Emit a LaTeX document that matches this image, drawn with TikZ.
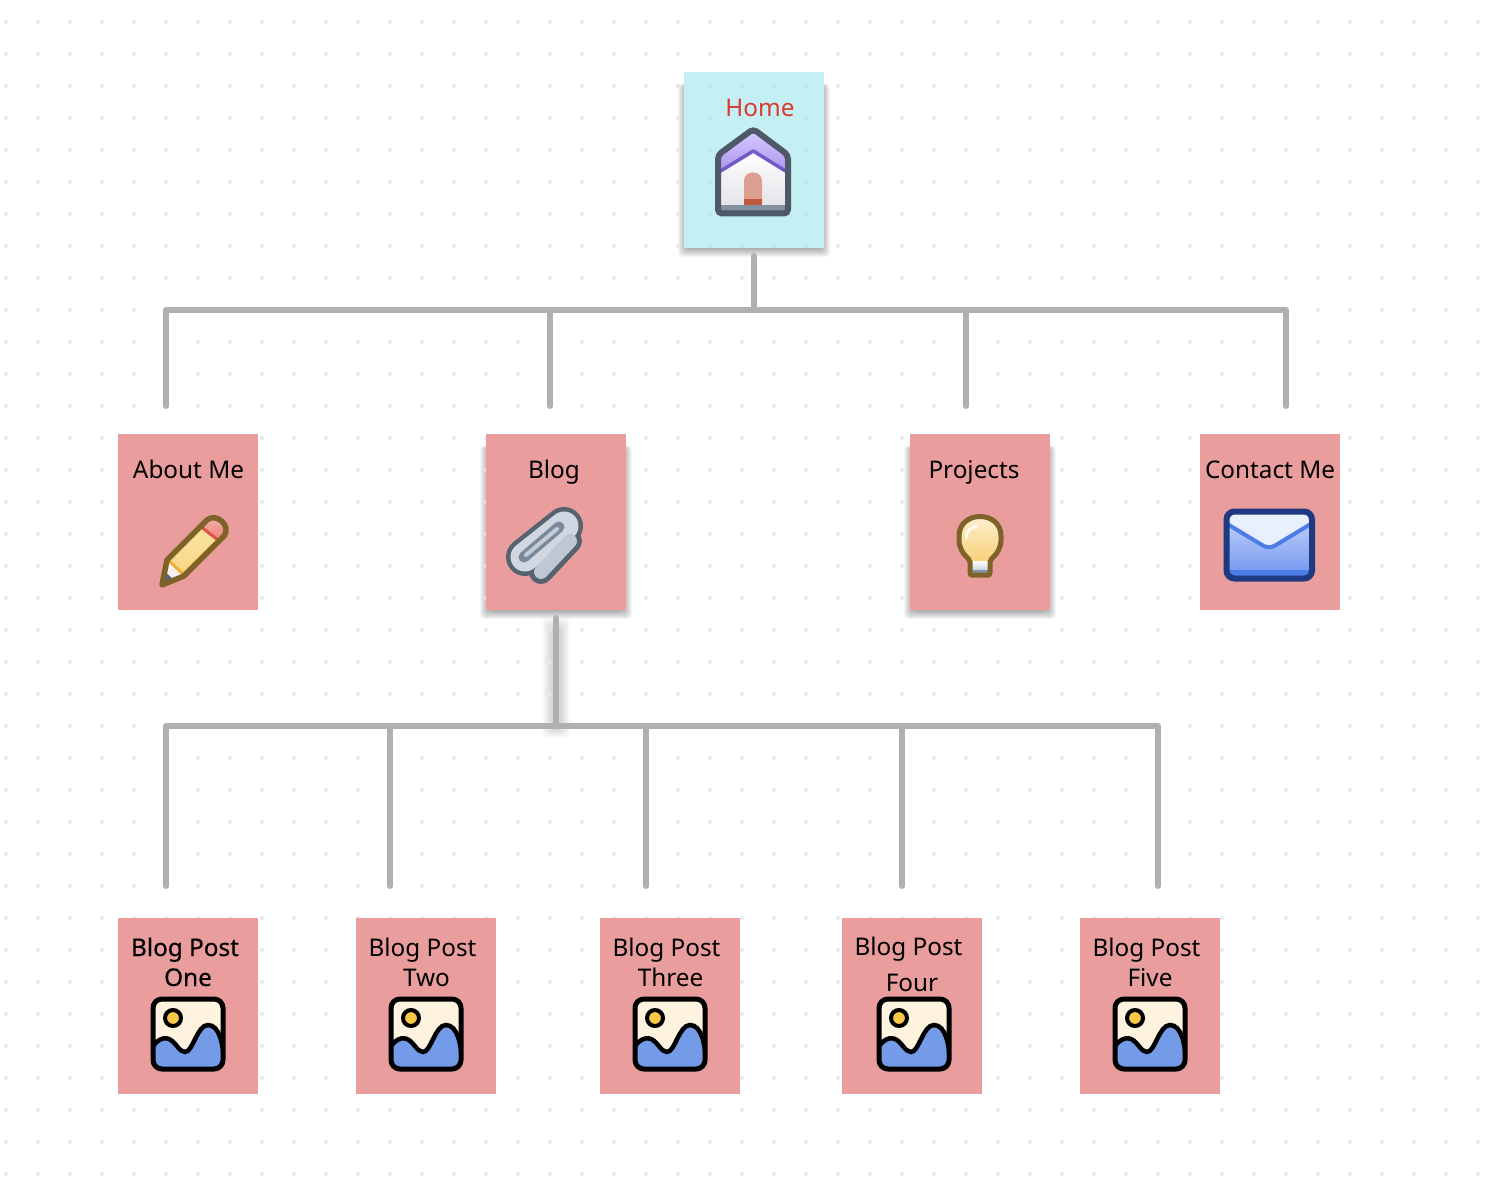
\documentclass[tikz,border=0pt]{standalone}
\usepackage{fontspec}
\setmainfont{Noto Sans}
\newfontfamily\fakebold[FakeBold=0.25]{Noto Sans}
\usetikzlibrary{calc}
\definecolor{pinkbox}{HTML}{E99D9D}
\definecolor{aquabox}{HTML}{B2EBF0}
\definecolor{griddot}{HTML}{E7E7E7}
\definecolor{wire}{HTML}{B0B0B0}
\definecolor{homered}{HTML}{D93A32}
\definecolor{skyblue}{HTML}{739BE8}
\tikzset{
  x=1pt,y=-1pt,
  pagebox/.style={minimum width=140pt,minimum height=176pt,inner sep=0pt,outer sep=0pt,fill=pinkbox},
  homebox/.style={pagebox,fill=aquabox,fill opacity=.75},
  lbl/.style={anchor=base,inner sep=0pt,outer sep=0pt,font=\fontsize{24.3}{28}\selectfont,text=black},
  boldlbl/.style={lbl,font=\fontsize{24.3}{28}\fakebold},
  wireline/.style={draw=wire,line width=6pt,line cap=round,line join=round},
  imgicon/.pic={
    \begin{scope}
      \clip[rounded corners=9pt] (-35,-35) rectangle (35,35);
      \fill[fill={rgb,255:red,253;green,243;blue,222}] (-35,-35) rectangle (35,35);
      \filldraw[fill=skyblue,draw=black,line width=4.5pt]
        (-40,24) .. controls (-36,8) and (-26,2) .. (-19,5)
        .. controls (-12,8) and (-9,18) .. (-3,18)
        .. controls (5,18) and (9,-9) .. (20,-9)
        .. controls (32,-9) and (35,12) .. (36,26) -- (36,40) -- (-40,40) -- cycle;
    \end{scope}
    \draw[black,line width=5pt,rounded corners=9pt] (-35,-35) rectangle (35,35);
    \filldraw[fill={rgb,255:red,249;green,200;blue,70},draw=black,line width=4pt] (-15,-16) circle (8);
  }
}
\newcommand{\softshadow}[4]{%
  \foreach \gr in {-3,-2,...,6}{%
    \fill[black,fill opacity=.04,rounded corners=4pt]
      ({#1-\gr},{#2+12}) rectangle ({#3+\gr},{#4+3+\gr});
  }%
}
\begin{document}
\begin{tikzpicture}
\useasboundingbox (0,0) rectangle (1494,1182);
\fill[white] (0,0) rectangle (1494,1182);
% shadows
\softshadow{684}{72}{824}{248}
\softshadow{486}{434}{626}{610}
\softshadow{910}{434}{1050}{610}
\foreach \gr in {1,2,...,10}{
  \fill[black,fill opacity=.014,rounded corners=4pt] ({552-\gr},{628-\gr}) rectangle ({560+\gr},{728+\gr});
}
\fill[white] (684,72) rectangle (824,248);
% dot grid
\foreach \ix in {0,...,46}{
  \foreach \iy in {0,...,36}{
    \fill[griddot] ({6+32*\ix},{22+32*\iy}) circle (2);
  }
}
% boxes
\node[homebox] (home) at (754,160) {};
\node[pagebox] (about) at (188,522) {};
\node[pagebox] (blog) at (556,522) {};
\node[pagebox] (projects) at (980,522) {};
\node[pagebox] (contact) at (1270,522) {};
\node[pagebox] (post1) at (188,1006) {};
\node[pagebox] (post2) at (426,1006) {};
\node[pagebox] (post3) at (670,1006) {};
\node[pagebox] (post4) at (912,1006) {};
\node[pagebox] (post5) at (1150,1006) {};
% labels
\node[lbl,text=homered] (thome) at (760,117) {Home};
\node[lbl] (tabout) at (188.5,478) {About Me};
\node[lbl] (tblog) at (554,478) {Blog};
\node[lbl] (tproj) at (974,478) {Projects};
\node[lbl] (tcont) at (1270,478) {Contact Me};
\node[boldlbl] (ta1) at (185,956) {Blog Post};
\node[boldlbl] (tb1) at (188,986) {One};
\node[lbl] (ta2) at (422.5,956) {Blog Post};
\node[lbl] (tb2) at (426.5,986) {Two};
\node[lbl] (ta3) at (666.5,956) {Blog Post};
\node[lbl] (tb3) at (670.5,986) {Three};
\node[lbl] (ta4) at (908.5,955) {Blog Post};
\node[lbl] (tb4) at (912,991) {Four};
\node[lbl] (ta5) at (1146.5,956) {Blog Post};
\node[lbl] (tb5) at (1150,986) {Five};
% connectors, first tier
\coordinate (bl) at (166,310);
\coordinate (br) at (1286,310);
\coordinate (dl) at (166,406);
\coordinate (dr) at (1286,406);
\coordinate (s1) at (550,310);
\coordinate (e1) at (550,406);
\coordinate (s2) at (966,310);
\coordinate (e2) at (966,406);
\coordinate (hs) at ($(home.south)+(0,8)$);
\coordinate (hb) at (754,310);
\draw[wireline] (dl) -- (bl) -- (br) -- (dr);
\draw[wireline] (hs) -- (hb);
\draw[wireline] (s1) -- (e1);
\draw[wireline] (s2) -- (e2);
% connectors, second tier
\coordinate (cl) at (166,726);
\coordinate (cr) at (1158,726);
\coordinate (fl) at (166,886);
\coordinate (fr) at (1158,886);
\coordinate (bs) at ($(blog.south)+(0,8)$);
\coordinate (bb) at (556,726);
\draw[wireline] (fl) -- (cl) -- (cr) -- (fr);
\foreach \xx in {390,646,902}{
  \coordinate (t) at (\xx,726);
  \coordinate (u) at (\xx,886);
  \draw[wireline] (t) -- (u);
}
\draw[wireline] (bs) -- (bb);
% house icon
\begin{scope}
  \clip[rounded corners=4pt] (753.3,129) -- (788,155) -- (788,213.5) -- (718,213.5) -- (718,155) -- cycle;
  \shade[top color=white,bottom color={rgb,255:red,228;green,228;blue,234}] (714,150) rectangle (792,206);
  \shade[top color={rgb,255:red,222;green,210;blue,255},bottom color={rgb,255:red,170;green,145;blue,240}]
    (714,125) -- (792,125) -- (792,173) -- (753.3,150) -- (714,173) -- cycle;
  \draw[line width=3.5pt,color={rgb,255:red,112;green,92;blue,200},line join=round] (714,175) -- (753.3,151) -- (792,175);
  \fill[color={rgb,255:red,132;green,145;blue,158}] (714,205) rectangle (792,216);
\end{scope}
\fill[color={rgb,255:red,221;green,160;blue,144}] (744,205) -- (744,181) .. controls (744,169.5) and (762,169.5) .. (762,181) -- (762,205) -- cycle;
\fill[color={rgb,255:red,192;green,90;blue,60}] (744,199) rectangle (762,205);
\draw[line width=6pt,color={rgb,255:red,78;green,88;blue,102},rounded corners=4pt] (753.3,129) -- (788,155) -- (788,213.5) -- (718,213.5) -- (718,155) -- cycle;
% pencil icon
\begin{scope}
  \clip (162,585) -- (167,560) -- (207,520) .. controls (216,512) and (232,526) .. (224,536) -- (184,576) -- cycle;
  \shade[top color={rgb,255:red,250;green,232;blue,170},bottom color={rgb,255:red,248;green,210;blue,125}] (155,510) rectangle (232,590);
  \shade[top color={rgb,255:red,240;green,190;blue,185},bottom color={rgb,255:red,238;green,120;blue,110}] (198,510) -- (232,510) -- (232,546) -- (222,544) -- (200,526) -- cycle;
  \draw[line width=3pt,color={rgb,255:red,226;green,80;blue,70}] (200,526) -- (223,544);
  \draw[line width=4pt,color={rgb,255:red,242;green,176;blue,52}] (184,574) -- (225,534);
  \fill[color={rgb,255:red,250;green,240;blue,238}] (166,559) -- (184,575) -- (160,590) -- cycle;
  \draw[line width=3pt,color={rgb,255:red,242;green,176;blue,52}] (167,559) -- (184,575);
  \fill[color={rgb,255:red,86;green,103;blue,126}] (160,567) -- (175,581) -- (158,592) -- cycle;
\end{scope}
\draw[line width=5.5pt,color={rgb,255:red,126;green,98;blue,40},line join=round] (162,585) -- (167,560) -- (207,520) .. controls (216,512) and (232,526) .. (224,536) -- (184,576) -- cycle;
% paperclip icon
\draw[line width=38pt,line cap=round,color={rgb,255:red,86;green,99;blue,110}] (525,557) -- (564,526);
\draw[line width=24pt,line cap=round,color={rgb,255:red,86;green,99;blue,110}] (541,572) -- (570,541);
\draw[line width=29pt,line cap=round,color={rgb,255:red,208;green,215;blue,224}] (525,557) -- (564,526);
\draw[line width=14pt,line cap=round,color={rgb,255:red,190;green,199;blue,212}] (541,572) -- (570,541);
\draw[line width=11pt,line cap=round,color={rgb,255:red,122;green,138;blue,154}] (524,557) -- (559,527);
\draw[line width=4pt,line cap=round,color={rgb,255:red,196;green,204;blue,216}] (526,555) -- (557,529);
% bulb icon
\begin{scope}
  \clip (970,574) -- (970,560) .. controls (965,556) and (959,549) .. (959,538) .. controls (959,510) and (1001,510) .. (1001,538) .. controls (1001,549) and (995,556) .. (990,560) -- (990,574) -- cycle;
  \shade[top color={rgb,255:red,252;green,240;blue,208},bottom color={rgb,255:red,248;green,208;blue,120}] (955,515) rectangle (1005,562);
  \shade[top color=white,bottom color={rgb,255:red,196;green,204;blue,216}] (965,561.5) rectangle (995,571);
  \fill[color={rgb,255:red,135;green,148;blue,165}] (965,570) rectangle (995,578);
\end{scope}
\draw[line width=5pt,color={rgb,255:red,126;green,98;blue,40},rounded corners=2pt] (970,575) -- (970,560) .. controls (965,556) and (959,549) .. (959,538) .. controls (959,510) and (1001,510) .. (1001,538) .. controls (1001,549) and (995,556) .. (990,560) -- (990,575) -- cycle;
\draw[line width=3pt,line cap=round,white,opacity=.85] (966,538) .. controls (966,531) and (971,527) .. (977,526);
% envelope icon
\begin{scope}
  \clip[rounded corners=8pt] (1226.5,511.5) rectangle (1312,578.5);
  \shade[top color={rgb,255:red,190;green,208;blue,250},bottom color={rgb,255:red,122;green,155;blue,240}] (1224,520) rectangle (1314,570);
  \fill[color={rgb,255:red,232;green,239;blue,253}] (1224,509) -- (1314,509) -- (1314,523) -- (1269,549) -- (1224,523) -- cycle;
  \draw[line width=4pt,color={rgb,255:red,76;green,124;blue,232},line join=round] (1224,522) -- (1262,545) .. controls (1267,548) and (1271,548) .. (1276,545) -- (1314,522);
  \fill[color={rgb,255:red,76;green,124;blue,232}] (1224,569.5) rectangle (1314,580);
\end{scope}
\draw[line width=6pt,color={rgb,255:red,31;green,58;blue,128},rounded corners=8pt] (1226.5,511.5) rectangle (1312,578.5);
% picture icons
\pic at (188,1034) {imgicon};
\pic at (426,1034) {imgicon};
\pic at (670,1034) {imgicon};
\pic at (914,1034) {imgicon};
\pic at (1150,1034) {imgicon};
\end{tikzpicture}
\end{document}
